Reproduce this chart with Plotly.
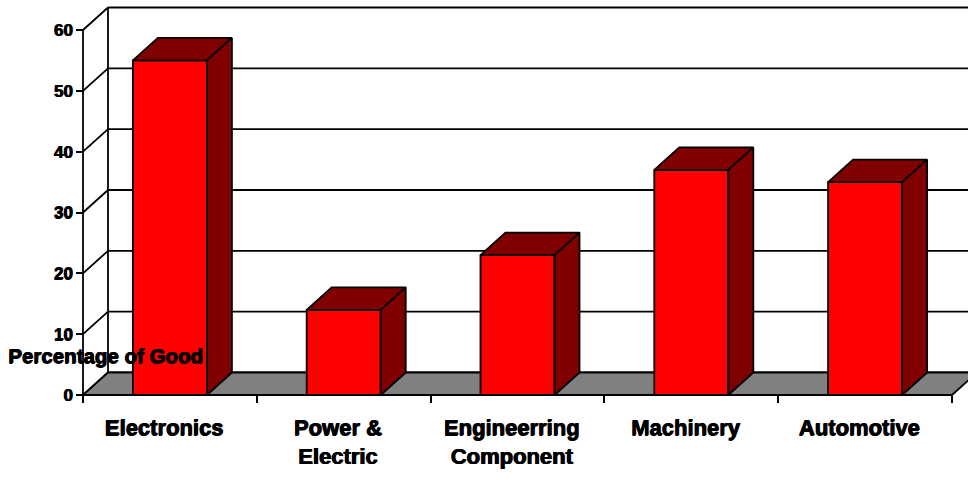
import plotly.graph_objects as go

# ---- data ----
categories = ["Electronics", "Power &<br>Electric", "Engineerring<br>Component", "Machinery", "Automotive"]
values = [55, 14, 23, 37, 35]
y_ticks = [0, 10, 20, 30, 40, 50, 60]
y_title = "Percentage of Good"

# ---- layout constants (pixels) ----
W, H = 968, 487
X0_PX, CAT_PX = 83, 173.8          # front-left corner, category width
Y0_PX, V_PX = 395, 365 / 60         # front baseline, pixels per unit
DX_PX, DY_PX = 25, 22.5             # 3-D depth offset
BAR_W = 0.426

FONT = "Liberation Sans, Arial, sans-serif"
HEAVY = "0.9px 0px 0px #000, 0px 0.5px 0px #000"
FRONT = "#FF0000"
DARK = "#800000"
FLOOR = "#808080"
LW = 1.8

dx = DX_PX / CAT_PX
dy = DY_PX / V_PX
n = len(categories)
xs = list(range(n))
x_lo, x_hi = -0.5, n - 0.5
y_top = y_ticks[-1]

x_range = [x_lo - X0_PX / CAT_PX, x_lo + (W - X0_PX) / CAT_PX]
y_range = [-(H - Y0_PX) / V_PX, Y0_PX / V_PX]

line = dict(color="black", width=LW)
shapes = []
for t in y_ticks:
    # back wall gridline
    shapes.append(dict(type="line", xref="x", yref="y", layer="below",
                       x0=x_lo + dx, y0=t + dy, x1=x_range[1] + 1, y1=t + dy, line=line))
    # side wall gridline
    shapes.append(dict(type="line", xref="x", yref="y", layer="below",
                       x0=x_lo, y0=t, x1=x_lo + dx, y1=t + dy, line=line))
# back wall vertical edge
shapes.append(dict(type="line", xref="x", yref="y", layer="below",
                   x0=x_lo + dx, y0=dy, x1=x_lo + dx, y1=y_top + dy, line=line))
# front vertical axis
shapes.append(dict(type="line", xref="x", yref="y", layer="below",
                   x0=x_lo, y0=0, x1=x_lo, y1=y_top, line=line))
# floor
shapes.append(dict(type="path", xref="x", yref="y", layer="below",
                   path=f"M {x_lo},0 L {x_hi},0 L {x_hi + dx},{dy} L {x_lo + dx},{dy} Z",
                   fillcolor=FLOOR, line=line))

fig = go.Figure()
fig.add_trace(go.Bar(x=xs, y=values, width=BAR_W, base=0,
                     marker=dict(color=FRONT, line=dict(color="black", width=LW)),
                     hoverinfo="skip", showlegend=False))

for c, v in zip(xs, values):
    l, r = c - BAR_W / 2, c + BAR_W / 2
    # top face
    fig.add_trace(go.Scatter(
        x=[l, r, r + dx, l + dx, l], y=[v, v, v + dy, v + dy, v],
        mode="lines", fill="toself", fillcolor=DARK, line=line,
        hoverinfo="skip", showlegend=False))
    # side face
    fig.add_trace(go.Scatter(
        x=[r, r + dx, r + dx, r, r], y=[0, dy, v + dy, v, 0],
        mode="lines", fill="toself", fillcolor=DARK, line=line,
        hoverinfo="skip", showlegend=False))

fig.update_layout(
    width=W, height=H, autosize=False,
    margin=dict(l=0, r=0, t=0, b=0, pad=0),
    paper_bgcolor="white", plot_bgcolor="white",
    showlegend=False,
    shapes=shapes,
    xaxis=dict(type="linear", range=x_range, anchor="free", position=(H - Y0_PX) / H,
               tickmode="array", tickvals=xs, ticktext=categories, ticks="",
               showgrid=False, zeroline=False, showline=False, fixedrange=True,
               tickfont=dict(family=FONT, size=22, color="black", weight="bold", shadow=HEAVY),
               ticklabelshift=-6, ticklabelstandoff=17,
               minor=dict(tickmode="array", tickvals=[x_lo + i for i in range(n + 1)],
                          ticks="outside", ticklen=7, tickwidth=LW, tickcolor="black",
                          showgrid=False)),
    yaxis=dict(type="linear", range=y_range, anchor="free", position=X0_PX / W,
               tickmode="array", tickvals=y_ticks, ticks="outside", ticklen=7,
               tickwidth=LW, tickcolor="black",
               showgrid=False, zeroline=False, showline=False, fixedrange=True,
               tickfont=dict(family=FONT, size=17, color="black", weight="bold", shadow=HEAVY)),
    annotations=[dict(text=y_title, xref="paper", yref="paper",
                      x=6 / W, y=1 - 355 / H, xanchor="left", yanchor="middle",
                      showarrow=False,
                      font=dict(family=FONT, size=20.5, color="black", weight="bold", shadow=HEAVY))],
)

fig.write_html("out.html")
